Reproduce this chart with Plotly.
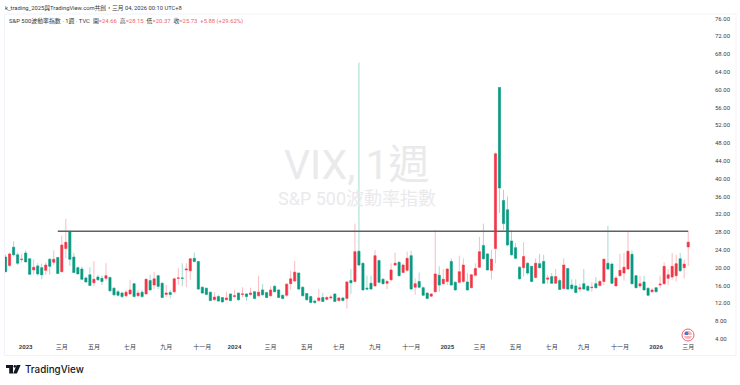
import datetime as dt
import plotly.graph_objects as go

first_week = dt.date(2022, 11, 28)

opens = [22.4,20.5,24.6,22.9,21.8,23.3,22.0,19.5,20.4,20.0,
19.4,21.9,21.2,22.3,19.1,24.3,28.1,22.4,20.0,19.7,
17.7,18.4,16.6,17.9,17.6,17.6,17.8,15.4,14.6,14.3,
13.7,14.1,16.4,13.7,14.5,14.1,17.1,16.1,18.2,16.5,
14.0,14.4,14.6,17.6,17.7,19.5,19.3,22.1,21.4,15.6,
15.4,14.5,12.8,13.5,13.3,12.8,14.1,13.5,14.3,14.0,
14.1,14.0,14.6,13.7,15.0,14.4,13.7,15.8,15.0,13.8,
13.8,16.4,17.0,18.8,15.6,14.2,13.5,12.5,12.6,13.3,
12.9,13.2,14.1,12.6,13.2,13.1,17.1,16.9,23.7,21.0,
15.4,16.5,15.9,21.6,17.4,16.5,17.3,20.6,21.2,18.9,
19.4,22.7,15.6,16.9,15.5,14.3,13.6,14.6,18.3,16.4,
16.9,21.4,16.7,16.7,16.9,16.8,15.5,18.3,20.1,25.0,
23.1,19.4,24.3,60.5,35.1,33.0,26.0,24.5,20.1,20.0,
21.0,20.3,17.8,20.9,21.4,17.4,18.0,16.5,17.1,15.3,
19.8,16.1,15.9,15.2,16.4,15.8,15.5,16.4,16.0,16.9,
21.0,20.8,15.9,18.2,18.8,19.7,23.0,18.2,15.9,16.8,
15.4,14.6,15.5,16.1,16.4,17.6,17.9,18.2,22.0,20.0,24.66]

closes = [19.1,23.1,22.9,21.0,21.9,21.3,18.5,20.1,18.6,18.4,
20.6,20.3,21.9,18.7,25.1,25.7,21.9,18.9,18.6,17.4,
16.8,16.0,17.4,17.3,16.9,18.2,14.8,13.9,13.8,13.5,
14.5,15.0,13.5,14.3,13.5,17.4,15.0,17.5,15.8,13.3,
14.3,14.0,17.5,17.7,17.6,19.7,22.0,21.4,15.2,14.3,
14.0,12.6,13.4,12.5,12.3,13.2,12.6,13.7,12.8,14.1,
13.5,14.3,13.1,14.5,13.9,13.3,15.0,14.6,13.3,13.1,
16.3,17.5,19.0,15.2,13.7,12.8,12.2,12.2,13.2,12.4,
13.3,13.4,12.4,13.2,12.6,16.8,16.6,23.6,20.6,15.0,
15.2,15.2,22.7,16.7,16.4,16.9,19.5,21.0,18.2,20.6,
22.1,15.2,16.4,15.6,13.8,13.1,14.1,18.6,16.1,17.4,
19.7,16.1,15.0,19.1,20.6,15.0,18.4,19.8,23.6,22.0,
19.5,21.9,45.6,37.9,29.9,25.1,22.9,22.1,17.5,22.5,
18.8,16.9,21.0,20.0,16.5,17.7,16.5,18.0,15.1,20.6,
15.2,15.3,14.4,15.5,15.2,14.9,15.6,15.5,16.9,21.9,
19.7,16.5,17.7,19.4,20.1,23.7,16.4,15.5,16.4,15.0,
13.8,15.0,14.6,16.3,20.3,18.4,20.3,20.9,19.3,20.8,25.73]

highs = [22.9,23.4,25.9,23.4,23.1,23.9,22.0,21.9,21.0,20.9,
21.2,22.1,23.9,22.3,27.2,31.0,28.4,23.3,20.3,20.3,
18.0,20.1,21.5,18.4,18.2,21.0,18.0,15.5,15.0,14.6,
15.0,17.3,16.4,15.0,15.0,17.6,18.4,19.0,18.4,16.7,
16.1,15.0,17.6,19.9,21.0,21.0,22.0,23.4,21.4,15.8,
15.4,14.5,14.5,13.9,13.4,14.6,14.1,15.0,14.3,15.6,
14.3,15.5,14.8,18.2,16.3,14.4,15.8,16.1,15.2,13.9,
16.5,19.3,21.5,18.9,15.8,14.3,13.7,12.8,15.2,14.3,
13.7,13.9,14.1,13.4,13.4,16.9,19.7,29.9,66.1,21.0,
18.2,18.2,24.0,21.8,17.6,17.3,21.0,23.4,21.4,21.0,
23.6,23.8,17.6,18.9,15.8,14.4,14.3,28.5,20.3,19.7,
19.9,22.1,16.9,22.7,22.1,18.8,18.6,21.0,26.9,29.9,
23.3,24.0,45.9,60.5,37.5,36.0,28.4,25.5,20.3,25.7,
21.2,20.3,22.1,23.1,22.9,18.4,18.8,19.7,17.6,22.1,
19.9,17.4,17.4,16.4,19.7,16.1,16.7,17.9,17.3,22.1,
29.4,21.2,18.2,23.1,23.3,28.1,23.9,18.4,18.2,18.2,
15.4,15.4,15.6,18.2,21.2,19.7,23.3,22.9,23.3,21.8,28.15]

lows = [19.0,20.1,22.5,20.6,21.2,21.2,18.4,18.5,18.2,17.4,
18.4,18.4,20.6,18.6,18.9,22.1,20.4,18.8,18.6,17.3,
16.7,15.9,15.8,17.0,16.1,17.1,14.6,13.7,13.5,13.2,
13.3,13.9,13.4,13.5,13.3,14.0,14.9,15.2,15.2,13.2,
13.4,13.1,14.3,16.1,15.8,15.6,17.3,21.2,15.0,14.1,
13.8,12.5,12.6,12.4,12.2,12.6,12.6,13.3,12.6,13.4,
12.6,13.7,12.9,13.5,13.7,13.2,13.5,14.5,13.2,12.9,
13.5,15.0,16.9,15.0,13.5,12.6,12.0,11.8,12.4,12.3,
12.6,12.8,12.3,12.4,12.5,10.8,14.1,16.7,20.3,14.9,
15.0,15.0,15.8,16.5,16.2,15.2,16.9,20.4,18.0,18.8,
19.1,15.0,13.9,15.4,13.7,12.9,13.4,14.4,14.6,16.1,
16.1,15.9,14.9,16.5,16.5,14.9,15.4,18.0,19.9,21.8,
19.4,17.4,21.0,32.3,28.5,24.8,22.7,21.9,17.3,18.0,
18.4,16.7,17.6,19.8,16.4,16.4,16.4,16.4,15.0,15.2,
15.0,15.0,14.3,14.6,15.0,14.7,14.6,15.3,15.8,16.1,
19.5,16.4,15.8,18.0,17.1,19.5,16.2,15.4,15.4,14.9,
13.6,14.4,14.5,15.4,16.1,16.1,17.3,16.9,19.1,17.6,20.37]

level_value = 28.2
level_start, level_end = dt.date(2023, 2, 27), dt.date(2026, 3, 2)

month_dates = ["2023-01-02","2023-03-06","2023-05-01","2023-07-03","2023-09-04","2023-11-06",
               "2024-01-01","2024-03-04","2024-05-06","2024-07-01","2024-09-02","2024-11-04",
               "2025-01-06","2025-03-03","2025-05-05","2025-07-07","2025-09-01","2025-11-03",
               "2026-01-05","2026-03-02"]
month_labels = ["<b>2023</b>","三月","五月","七月","九月","十一月",
                "<b>2024</b>","三月","五月","七月","九月","十一月",
                "<b>2025</b>","三月","五月","七月","九月","十一月",
                "<b>2026</b>","三月"]
y_ticks = list(range(4, 80, 4))

W, H = 740, 385
L, R, T, B = 5, 706, 14, 342
def px(x): return (x - L) / (R - L)
def py(y): return (B - y) / (B - T)

weeks = [first_week + dt.timedelta(days=7 * i) for i in range(len(opens))]
step = 4.012
x_lo = first_week - dt.timedelta(days=7 * (6 - L) / step)
x_hi = weeks[-1] + dt.timedelta(days=7 * (R - 687.7) / step)

GREEN, RED = "#089981", "#f23645"
PALE_G, PALE_R = "#a3dbd0", "#f9bcc2"
FONT = "Roboto, 'Noto Sans CJK TC', sans-serif"
INK = "#3a3e4a"

fig = go.Figure()
# wicks
fig.add_trace(go.Candlestick(
    x=weeks, open=opens, high=highs, low=lows, close=closes,
    increasing=dict(line=dict(color=PALE_R, width=1), fillcolor=PALE_R),
    decreasing=dict(line=dict(color=PALE_G, width=1), fillcolor=PALE_G),
    showlegend=False, hoverinfo="skip", whiskerwidth=0))
# bodies
fig.add_trace(go.Candlestick(
    x=weeks, open=opens, close=closes,
    high=[max(a, b) for a, b in zip(opens, closes)],
    low=[min(a, b) for a, b in zip(opens, closes)],
    increasing=dict(line=dict(color=RED, width=0.4), fillcolor=RED),
    decreasing=dict(line=dict(color=GREEN, width=0.4), fillcolor=GREEN),
    showlegend=False, hoverinfo="skip", whiskerwidth=0))
# horizontal level
fig.add_trace(go.Scatter(x=[level_start, level_end], y=[level_value, level_value], mode="lines",
                         line=dict(color="#616165", width=1.6), showlegend=False, hoverinfo="skip"))

def note(x, y, text, size, color=INK, anchor="left", family=FONT, weight="normal"):
    fig.add_annotation(xref="paper", yref="paper", x=px(x), y=py(y), text=text, showarrow=False,
                       xanchor=anchor, yanchor="middle",
                       font=dict(size=size, color=color, family=family, weight=weight),
                       borderpad=0, borderwidth=0)

note(5, 7.5, "k_trading_2025與TradingView.com共創，三月 04, 2026 00:10 UTC+8", 5.8, "#333742")
RD = "#f0616d"
note(9, 21, "S&P 500波動率指數 · 1週 · TVC&nbsp;&nbsp;開<span style='color:%s'>=24.66</span>&nbsp;&nbsp;高<span style='color:%s'>=28.15</span>&nbsp;&nbsp;低<span style='color:%s'>=20.37</span>&nbsp;&nbsp;收<span style='color:%s'>=25.73&nbsp;&nbsp;+5.88 (+29.62%%)</span>" % (RD, RD, RD, RD), 5.9, "#333742")
note(357, 165, "VIX, 1週", 41, "#eaeaec", anchor="center")
note(357, 198, "S&P 500波動率指數", 18, "#eaeaec", anchor="center")
note(24.5, 369.5, "TradingView", 9.8, "#131722", family="Inter, Roboto, sans-serif", weight=500)

shapes = []
def rect(x0, y0, x1, y1, fill, line=None, w=0, kind="rect"):
    shapes.append(dict(type=kind, xref="paper", yref="paper", x0=px(x0), x1=px(x1), y0=py(y0), y1=py(y1),
                       fillcolor=fill, line=dict(color=line or fill, width=w), layer="above"))
# pane frame
shapes.append(dict(type="rect", xref="paper", yref="paper", x0=px(4.5), x1=px(736), y0=py(355.5), y1=py(14),
                   line=dict(color="#f0f3fa", width=1), layer="below"))
# logo
rect(6, 365, 13, 368, "#131722")
rect(9.2, 365, 13, 373.5, "#131722")
rect(13.6, 365, 16, 367.7, "#131722", kind="circle")
shapes.append(dict(type="path", xref="paper", yref="paper", layer="above", fillcolor="#131722", line=dict(width=0),
                   path="M %f %f L %f %f L %f %f L %f %f Z" % (px(16.6), py(365), px(20.6), py(365), px(16.9), py(373.5), px(13.2), py(373.5))))
# flag
rect(682, 329, 694, 341, "#ffffff", "#f0616d", 1, "circle")
rect(684, 331, 692, 339, "#f8b6bb", kind="circle")
rect(684.5, 331.5, 688.5, 335.5, "#3f7fd6", kind="circle")
rect(684, 335, 692, 336, "#ffffff")

fig.update_layout(
    width=W, height=H, autosize=False,
    margin=dict(l=L, r=W - R, t=T, b=H - B, pad=0),
    paper_bgcolor="#ffffff", plot_bgcolor="#ffffff",
    font=dict(family=FONT, size=6, color=INK),
    boxgap=0.25, shapes=shapes, showlegend=False, hovermode=False,
    xaxis=dict(type="date", range=[x_lo, x_hi], rangeslider=dict(visible=False),
               tickmode="array", tickvals=month_dates, ticktext=month_labels, tickangle=0,
               showgrid=False, zeroline=False, showline=False, ticks="", tickfont=dict(size=6, color=INK)),
    yaxis=dict(side="right", range=[3.3, 77.0], tickmode="array", tickvals=y_ticks,
               ticktext=["%.2f" % v for v in y_ticks], showgrid=False, zeroline=False, showline=False,
               ticks="", ticklabelstandoff=8, tickfont=dict(size=6, color=INK)),
)
fig.write_html("out.html", config=dict(displayModeBar=False),
               post_script="document.documentElement.style.margin='0';document.body.style.margin='0';document.body.style.overflow='hidden';")
